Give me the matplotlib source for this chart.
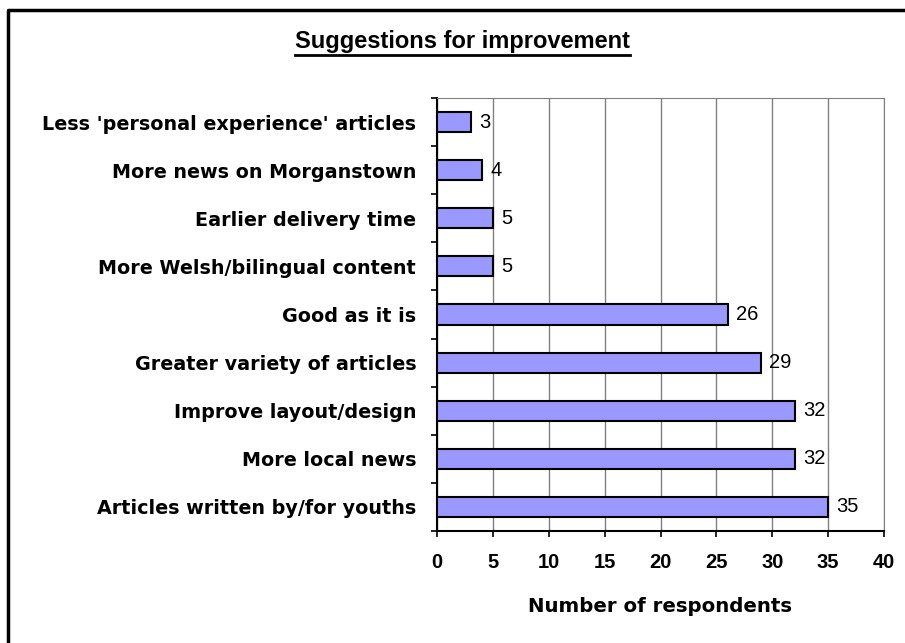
import matplotlib.pyplot as plt
from matplotlib.lines import Line2D

plt.rcParams['font.family'] = ['Liberation Sans', 'DejaVu Sans']

categories = ["Less 'personal experience' articles",
              "More news on Morganstown",
              "Earlier delivery time",
              "More Welsh/bilingual content",
              "Good as it is",
              "Greater variety of articles",
              "Improve layout/design",
              "More local news",
              "Articles written by/for youths"]
counts = [3, 4, 5, 5, 26, 29, 32, 32, 35]
xticks = [0, 5, 10, 15, 20, 25, 30, 35, 40]

W, H = 905, 643
fig = plt.figure(figsize=(W / 100, H / 100), dpi=100)
ax = fig.add_axes([437 / W, 1 - 531 / H, (884 - 437) / W, (531 - 98) / H])

ypos = list(range(len(categories)))[::-1]
ax.barh(ypos, counts, height=0.42, color='#9999ff', edgecolor='black', linewidth=1.5, zorder=3)
for y, v in zip(ypos, counts):
    ax.annotate(str(v), (v, y), xytext=(6, 0), textcoords='offset points',
                va='center', ha='left', fontsize=14.5, zorder=4)

ax.set_xlim(0, 40)
ax.set_ylim(-0.5, len(categories) - 0.5)
ax.set_xticks(xticks)
ax.set_xticklabels([str(t) for t in xticks], fontsize=14.5, fontweight='bold')
ax.set_yticks(ypos)
ax.set_yticklabels(categories, fontsize=13.8, fontweight='bold', family='DejaVu Sans')
ax.tick_params(axis='y', length=0, pad=15)
ax.set_yticks([i - 0.5 for i in range(len(categories) + 1)], minor=True)
ax.tick_params(axis='y', which='minor', length=4.5, width=1.2, direction='out')
ax.tick_params(axis='x', length=4.5, width=1.2, direction='out', pad=11)
ax.grid(axis='x', color='#808080', linewidth=1, zorder=0)
for s in ['top', 'right']:
    ax.spines[s].set_color('#808080')
for s in ['left', 'bottom']:
    ax.spines[s].set_color('black')
    ax.spines[s].set_linewidth(1.5)

fig.text(660 / W, 1 - 606 / H, 'Number of respondents', ha='center', va='center',
         fontsize=14.2, fontweight='bold', family='DejaVu Sans')

t = fig.text(295 / W, 1 - 48 / H, 'Suggestions for improvement', ha='left', va='baseline',
             fontsize=17, fontweight='bold')
fig.canvas.draw()
bb = t.get_window_extent().transformed(fig.transFigure.inverted())
uy = 1 - 55 / H
fig.add_artist(Line2D([bb.x0, bb.x1], [uy, uy], color='black', linewidth=2,
                      transform=fig.transFigure))

# outer chart border (top and left edges sit inside the image)
bx, by = 8 / W, 1 - 10 / H
fig.add_artist(Line2D([bx, bx, 1.01], [-0.01, by, by], color='black', linewidth=2.5,
                      transform=fig.transFigure))

fig.savefig('out.png', dpi=100)
